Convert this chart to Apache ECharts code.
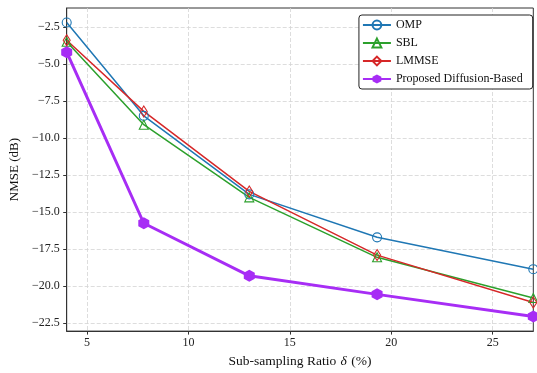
<!DOCTYPE html>
<html>
<head>
<meta charset="utf-8">
<script src="https://cdn.jsdelivr.net/npm/echarts@6/dist/echarts.min.js"></script>
<style>html,body{margin:0;padding:0;background:#fff}#c{width:537px;height:373px}</style>
</head>
<body>
<div id="c"></div>
<script>
var xValues = [4, 7.8, 13, 19.3, 27];
var seriesNames = ['OMP', 'SBL', 'LMMSE', 'Proposed Diffusion-Based'];
var omp = [-2.2, -8.5, -13.8, -16.7, -18.85];
var sbl = [-3.5, -9.1, -14.0, -18.05, -20.8];
var lmmse = [-3.4, -8.2, -13.6, -17.9, -21.1];
var proposed = [-4.2, -15.75, -19.3, -20.55, -22.05];
var xTicks = [5, 10, 15, 20, 25];
var yTicks = [-22.5, -20, -17.5, -15, -12.5, -10, -7.5, -5, -2.5];

var FONT = '"Liberation Serif", "DejaVu Serif", serif';
var HEX = 'path://M0,-1L0.866,-0.5L0.866,0.5L0,1L-0.866,0.5L-0.866,-0.5Z';

function pairs(ys) { return xValues.map(function (x, i) { return [x, ys[i]]; }); }

function openSeries(name, ys, color, symbol, size) {
  return {
    name: name, type: 'line', data: pairs(ys),
    symbol: symbol, symbolSize: size, showAllSymbol: true,
    lineStyle: { color: color, width: 1.5 },
    itemStyle: { color: 'rgba(255,255,255,0)', borderColor: color, borderWidth: 1.1 },
    emphasis: { disabled: true }, animation: false, z: 3
  };
}

var chart = echarts.init(document.getElementById('c'), null, { renderer: 'canvas' });
chart.setOption({
  backgroundColor: '#fff',
  animation: false,
  textStyle: { fontFamily: FONT },
  grid: { left: 66.7, right: 3.7, top: 8, bottom: 35, show: true, borderColor: '#333', borderWidth: 1, backgroundColor: 'transparent' },
  legend: {
    right: 4.3, top: 15, orient: 'vertical',
    data: seriesNames,
    itemWidth: 28, itemHeight: 11, itemGap: 6,
    padding: [4, 10, 4, 3],
    backgroundColor: '#fff', borderColor: '#222', borderWidth: 1, borderRadius: 3,
    textStyle: { fontFamily: FONT, fontSize: 12, color: '#111' }
  },
  xAxis: {
    type: 'value', min: 4, max: 27,
    name: 'Sub-sampling Ratio {i|δ} (%)', nameLocation: 'middle', nameGap: 19,
    nameTextStyle: { fontFamily: FONT, fontSize: 13.5, color: '#111',
      rich: { i: { fontFamily: FONT, fontSize: 13.5, fontStyle: 'italic', color: '#111', padding: [0, 1, 0, 1] } } },
    axisLine: { show: true, lineStyle: { color: '#333', width: 1 } },
    axisTick: { show: true, inside: false, length: 3.5, lineStyle: { color: '#333' }, customValues: xTicks },
    axisLabel: { fontFamily: FONT, fontSize: 12, color: '#222', margin: 6, customValues: xTicks },
    splitLine: { show: true, lineStyle: { color: '#d4d4d4', type: [4, 2], width: 0.8 } }
  },
  yAxis: {
    type: 'value', min: -23.03, max: -1.22,
    name: 'NMSE (dB)', nameLocation: 'middle', nameGap: 42,
    nameTextStyle: { fontFamily: FONT, fontSize: 13, color: '#111' },
    axisLine: { show: true, lineStyle: { color: '#333', width: 1 } },
    axisTick: { show: true, inside: false, length: 3.5, lineStyle: { color: '#333' }, customValues: yTicks },
    axisLabel: { fontFamily: FONT, fontSize: 12, color: '#222', margin: 7, customValues: yTicks,
      formatter: function (v) { return (v < 0 ? '\u2212' : '') + Math.abs(v).toFixed(1); } },
    splitLine: { show: true, lineStyle: { color: '#d4d4d4', type: [4, 2], width: 0.8 } }
  },
  series: [
    openSeries(seriesNames[0], omp, '#1f77b4', 'circle', 9),
    openSeries(seriesNames[1], sbl, '#2ca02c', 'triangle', 9),
    openSeries(seriesNames[2], lmmse, '#d62728', 'diamond', [7, 11]),
    {
      name: seriesNames[3], type: 'line', data: pairs(proposed),
      symbol: HEX, symbolSize: [11, 12], showAllSymbol: true,
      lineStyle: { color: '#a72df5', width: 3 },
      itemStyle: { color: '#a72df5' },
      emphasis: { disabled: true }, animation: false, z: 4
    }
  ]
});
</script>
</body>
</html>
